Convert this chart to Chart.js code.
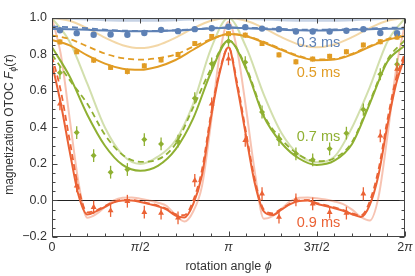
<!DOCTYPE html>
<html>
<head>
<meta charset="utf-8">
<script src="https://cdn.jsdelivr.net/npm/chart.js@4"></script>
<style>
  html, body { margin: 0; padding: 0; background: #fff; }
  #wrap { width: 415px; height: 276px; }
</style>
</head>
<body>
<div id="wrap"><canvas id="chart"></canvas></div>
<script>
// rotation angles are in units of pi
const PHI_POINTS = [0.045, 0.14, 0.236, 0.332, 0.427, 0.523, 0.618, 0.714, 0.809, 0.905, 1.0,
                    1.095, 1.19, 1.286, 1.382, 1.477, 1.573, 1.668, 1.764, 1.86, 1.955];
const PHI_COARSE = [0, 0.1, 0.2, 0.3, 0.4, 0.5, 0.6, 0.7, 0.8, 0.9, 1.0,
                    1.1, 1.2, 1.3, 1.4, 1.5, 1.6, 1.7, 1.8, 1.9, 2.0];
const PHI_FINE = [0, 0.05, 0.1, 0.15, 0.2, 0.25, 0.3, 0.35, 0.4, 0.45, 0.5, 0.55, 0.6, 0.65, 0.7, 0.75, 0.8, 0.85, 0.9, 0.95, 1.0,
                  1.05, 1.1, 1.15, 1.2, 1.25, 1.3, 1.35, 1.4, 1.45, 1.5, 1.55, 1.6, 1.65, 1.7, 1.75, 1.8, 1.85, 1.9, 1.95, 2.0];

const SERIES_NAMES = ['0.3 ms', '0.5 ms', '0.7 ms', '0.9 ms'];

// measured OTOC
const BLUE_PTS = [0.933, 0.917, 0.908, 0.910, 0.908, 0.918, 0.935, 0.928, 0.939, 0.944, 0.952,
                  0.950, 0.942, 0.939, 0.926, 0.926, 0.926, 0.930, 0.939, 0.918, 0.917];
const BLUE_ERR = [0.008, 0.008, 0.009, 0.008, 0.008, 0.009, 0.008, 0.008, 0.008, 0.008, 0.008,
                  0.008, 0.008, 0.008, 0.009, 0.008, 0.008, 0.008, 0.008, 0.009, 0.008];
const ORANGE_PTS = [0.869, 0.815, 0.769, 0.729, 0.707, 0.738, 0.770, 0.800, 0.860, 0.899, 0.914,
                    0.906, 0.860, 0.798, 0.760, 0.775, 0.790, 0.815, 0.852, 0.870, 0.895];
const ORANGE_ERR = [0.014, 0.014, 0.015, 0.014, 0.016, 0.014, 0.014, 0.015, 0.014, 0.014, 0.013,
                    0.014, 0.014, 0.015, 0.015, 0.014, 0.014, 0.014, 0.014, 0.014, 0.014];
const GREEN_PTS = [0.700, 0.372, 0.246, 0.155, 0.170, 0.334, 0.310, 0.325, 0.560, 0.750, 0.873,
                   0.758, 0.485, 0.334, 0.256, 0.223, 0.283, 0.369, 0.498, 0.692, 0.747];
const GREEN_ERR = [0.035, 0.035, 0.035, 0.035, 0.035, 0.035, 0.035, 0.035, 0.033, 0.033, 0.030,
                   0.033, 0.035, 0.035, 0.035, 0.035, 0.035, 0.035, 0.033, 0.033, 0.033];
const RED_PTS = [0.530, 0.080, -0.037, -0.055, -0.004, -0.064, -0.069, -0.095, 0.110, 0.530, 0.776,
                 0.330, 0.037, -0.091, 0.004, -0.018, -0.064, -0.069, 0.037, 0.354, 0.720];
const RED_ERR = [0.035, 0.035, 0.035, 0.035, 0.035, 0.035, 0.035, 0.035, 0.035, 0.035, 0.035,
                 0.035, 0.035, 0.035, 0.035, 0.035, 0.035, 0.035, 0.035, 0.035, 0.035];

// fitted model (solid), alternative model (dashed), ideal (light)
const BLUE_FIT = [0.940, 0.938, 0.935, 0.931, 0.928, 0.927, 0.928, 0.931, 0.937, 0.943, 0.946,
                  0.944, 0.940, 0.936, 0.933, 0.932, 0.933, 0.935, 0.938, 0.941, 0.942];
const BLUE_DASH = [0.953, 0.950, 0.944, 0.936, 0.931, 0.929, 0.930, 0.933, 0.939, 0.945, 0.948,
                   0.947, 0.944, 0.940, 0.937, 0.936, 0.937, 0.939, 0.942, 0.946, 0.948];
const BLUE_IDEAL = [1.0, 0.998, 0.995, 0.991, 0.988, 0.987, 0.988, 0.991, 0.995, 0.998, 1.0,
                    0.998, 0.995, 0.991, 0.988, 0.987, 0.988, 0.991, 0.995, 0.998, 1.0];

const ORANGE_FIT = [0.880, 0.850, 0.795, 0.750, 0.722, 0.716, 0.733, 0.770, 0.826, 0.880, 0.912,
                    0.900, 0.866, 0.825, 0.788, 0.769, 0.772, 0.800, 0.842, 0.880, 0.902];
const ORANGE_DASH = [0.905, 0.885, 0.845, 0.805, 0.780, 0.772, 0.780, 0.800, 0.843, 0.884, 0.912,
                     0.902, 0.870, 0.830, 0.792, 0.773, 0.776, 0.804, 0.846, 0.885, 0.906];
const ORANGE_IDEAL = [1.0, 0.985, 0.943, 0.892, 0.851, 0.835, 0.851, 0.892, 0.943, 0.985, 1.0,
                      0.985, 0.945, 0.895, 0.855, 0.840, 0.855, 0.895, 0.945, 0.985, 1.0];

const GREEN_FIT = [0.84, 0.68, 0.47, 0.30, 0.195, 0.163, 0.19, 0.28, 0.45, 0.70, 0.877,
                   0.72, 0.46, 0.315, 0.23, 0.195, 0.218, 0.31, 0.53, 0.76, 0.85];
const GREEN_DASH = [0.80, 0.66, 0.53, 0.36, 0.25, 0.212, 0.225, 0.31, 0.51, 0.72, 0.877,
                    0.73, 0.47, 0.335, 0.25, 0.215, 0.232, 0.32, 0.54, 0.77, 0.88];
const GREEN_IDEAL = [1.0, 0.87, 0.64, 0.40, 0.25, 0.20, 0.24, 0.33, 0.53, 0.83, 1.0,
                     0.84, 0.58, 0.37, 0.25, 0.21, 0.24, 0.40, 0.62, 0.87, 1.0];

const RED_FIT = [0.75, 0.53, 0.27, 0.03, -0.077, -0.06, -0.035, -0.01, 0.0, 0.0, -0.008, -0.02, -0.032, -0.05, -0.083, -0.093, -0.02, 0.14, 0.45, 0.70, 0.84,
                 0.62, 0.35, 0.09, -0.06, -0.08, -0.05, -0.02, -0.003, 0.0, -0.018, -0.03, -0.042, -0.056, -0.075, -0.09, -0.025, 0.14, 0.41, 0.64, 0.79];
const RED_DASH = [0.79, 0.60, 0.33, 0.07, -0.065, -0.055, -0.03, -0.008, 0.003, 0.003, -0.005, -0.016, -0.028, -0.045, -0.075, -0.08, 0.0, 0.17, 0.47, 0.71, 0.84,
                  0.64, 0.37, 0.11, -0.05, -0.07, -0.045, -0.017, 0.0, 0.002, -0.014, -0.026, -0.038, -0.052, -0.07, -0.082, -0.005, 0.17, 0.44, 0.67, 0.81];
const RED_IDEAL = [1.0, 0.80, 0.45, 0.10, -0.095, -0.075, -0.035, 0.0, 0.015, 0.017, 0.01, 0.0, -0.012, -0.03, -0.08, -0.115, -0.06, 0.08, 0.42, 0.80, 0.98,
                   0.82, 0.50, 0.15, -0.10, -0.085, -0.045, -0.005, 0.015, 0.017, 0.012, 0.005, -0.005, -0.02, -0.05, -0.09, -0.11, 0.02, 0.35, 0.72, 0.97];

const X_TICKS = [0, 0.5, 1, 1.5, 2];
const X_TICK_LABELS = ['0', 'π/2', 'π', '3π/2', '2π'];
const Y_TICKS = [-0.2, 0, 0.2, 0.4, 0.6, 0.8, 1.0];
const Y_TICK_LABELS = ['\u22120.2', '0.0', '0.2', '0.4', '0.6', '0.8', '1.0'];

const COLORS = ['#5e81b5', '#e19c24', '#8fb032', '#eb6235'];
const LIGHT = ['rgba(94,129,181,0.35)', 'rgba(225,156,36,0.4)', 'rgba(143,176,50,0.4)', 'rgba(235,98,53,0.38)'];
const LABEL_POS = [[1.51, 0.863], [1.51, 0.696], [1.51, 0.35], [1.51, -0.126]];
const FONT = '"Liberation Sans", Arial, sans-serif';

const series = [
  { pts: BLUE_PTS, err: BLUE_ERR, fit: BLUE_FIT, dash: BLUE_DASH, ideal: BLUE_IDEAL, grid: PHI_COARSE, style: 'circle', r: 3.2 },
  { pts: ORANGE_PTS, err: ORANGE_ERR, fit: ORANGE_FIT, dash: ORANGE_DASH, ideal: ORANGE_IDEAL, grid: PHI_COARSE, style: 'rect', r: 3.5 },
  { pts: GREEN_PTS, err: GREEN_ERR, fit: GREEN_FIT, dash: GREEN_DASH, ideal: GREEN_IDEAL, grid: PHI_COARSE, style: 'rectRot', r: 3 },
  { pts: RED_PTS, err: RED_ERR, fit: RED_FIT, dash: RED_DASH, ideal: RED_IDEAL, grid: PHI_FINE, style: 'triangle', r: 3.4 }
];

const xy = (xs, ys) => ys.map((y, i) => ({ x: xs[i], y: y }));

const datasets = [];
series.forEach((s, i) => {
  datasets.push({
    data: xy(PHI_POINTS, s.pts), showLine: false,
    pointStyle: s.style, pointRadius: s.r, pointBackgroundColor: COLORS[i], pointBorderWidth: 0,
    errors: s.err, errColor: COLORS[i]
  });
});
const lineBase = { showLine: true, pointRadius: 0, cubicInterpolationMode: 'monotone', fill: false };
series.forEach((s, i) => {
  datasets.push(Object.assign({}, lineBase, { data: xy(s.grid, s.fit), borderColor: COLORS[i], borderWidth: 2 }));
});
series.forEach((s, i) => {
  datasets.push(Object.assign({}, lineBase, { data: xy(s.grid, s.dash), borderColor: COLORS[i], borderWidth: 1.8, borderDash: [6, 4] }));
});
series.forEach((s, i) => {
  datasets.push(Object.assign({}, lineBase, { data: xy(s.grid, s.ideal), borderColor: LIGHT[i], borderWidth: i === 0 ? 3 : 2 }));
});

function fontOf(p, size) {
  const s = p.sub ? size * 0.72 : size;
  return (p.it ? 'italic ' : '') + s + 'px ' + FONT;
}
function drawRich(ctx, parts, x, y, size, align) {
  let w = 0;
  for (const p of parts) { ctx.font = fontOf(p, size); w += ctx.measureText(p.t).width; }
  let cx = align === 'right' ? x - w : (align === 'left' ? x : x - w / 2);
  ctx.textAlign = 'left';
  ctx.textBaseline = 'middle';
  for (const p of parts) {
    ctx.font = fontOf(p, size);
    ctx.fillText(p.t, cx, p.sub ? y + size * 0.3 : y);
    cx += ctx.measureText(p.t).width;
  }
}
// split a label so that pi is set in italics
function piParts(label) {
  return label.split(/(π)/).filter(t => t).map(t => ({ t: t, it: t === 'π' }));
}

const decor = {
  id: 'decor',
  beforeDatasetsDraw(chart) {
    const { ctx, chartArea: a, scales } = chart;
    const y0 = Math.round(scales.y.getPixelForValue(0)) + 0.5;
    ctx.save();
    ctx.strokeStyle = '#222';
    ctx.lineWidth = 1;
    ctx.beginPath();
    ctx.moveTo(a.left, y0);
    ctx.lineTo(a.right, y0);
    ctx.stroke();
    ctx.restore();
  },
  afterDatasetsDraw(chart) {
    const { ctx, scales } = chart;
    ctx.save();
    ctx.lineWidth = 1.3;
    chart.data.datasets.forEach(ds => {
      if (!ds.errors) return;
      ctx.strokeStyle = ds.errColor;
      ds.data.forEach((p, i) => {
        const px = scales.x.getPixelForValue(p.x);
        ctx.beginPath();
        ctx.moveTo(px, scales.y.getPixelForValue(p.y - ds.errors[i]));
        ctx.lineTo(px, scales.y.getPixelForValue(p.y + ds.errors[i]));
        ctx.stroke();
      });
    });
    SERIES_NAMES.forEach((name, i) => {
      ctx.fillStyle = COLORS[i];
      ctx.font = '14.5px ' + FONT;
      ctx.textAlign = 'center';
      ctx.textBaseline = 'middle';
      ctx.fillText(name, scales.x.getPixelForValue(LABEL_POS[i][0]), scales.y.getPixelForValue(LABEL_POS[i][1]));
    });
    ctx.restore();
  },
  afterDraw(chart) {
    const { ctx, chartArea: a, scales } = chart;
    const L = a.left + 0.5, R = a.right - 0.5, T = a.top + 0.5, B = a.bottom - 0.5;
    ctx.save();
    ctx.strokeStyle = '#444';
    ctx.lineWidth = 1;
    ctx.strokeRect(L, T, R - L, B - T);
    ctx.beginPath();
    for (let k = 0; k <= 20; k++) {
      const v = k / 10;
      const len = k % 5 === 0 ? 5 : 3;
      const px = Math.round(scales.x.getPixelForValue(v)) + 0.5;
      ctx.moveTo(px, B); ctx.lineTo(px, B - len);
      ctx.moveTo(px, T); ctx.lineTo(px, T + len);
    }
    for (let k = -4; k <= 20; k++) {
      const v = k / 20;
      const len = k % 4 === 0 ? 5 : 3;
      const py = Math.round(scales.y.getPixelForValue(v)) + 0.5;
      ctx.moveTo(L, py); ctx.lineTo(L + len, py);
      ctx.moveTo(R, py); ctx.lineTo(R - len, py);
    }
    ctx.stroke();

    ctx.fillStyle = '#333';
    Y_TICKS.forEach((v, i) => {
      drawRich(ctx, [{ t: Y_TICK_LABELS[i] }], a.left - 5, scales.y.getPixelForValue(v), 12.5, 'right');
    });
    X_TICKS.forEach((v, i) => {
      drawRich(ctx, piParts(X_TICK_LABELS[i]), scales.x.getPixelForValue(v), a.bottom + 11, 12.5, 'center');
    });

    drawRich(ctx, [{ t: 'rotation angle ' }, { t: '\u03d5', it: true }], (a.left + a.right) / 2, a.bottom + 30, 12.5, 'center');

    ctx.translate(10, (a.top + a.bottom) / 2 - 3);
    ctx.rotate(-Math.PI / 2);
    drawRich(ctx, [
      { t: 'magnetization OTOC ' }, { t: 'F', it: true }, { t: '\u03d5', it: true, sub: true },
      { t: '(' }, { t: 'τ', it: true }, { t: ')' }
    ], 0, 0, 12, 'center');
    ctx.restore();
  }
};

new Chart(document.getElementById('chart'), {
  type: 'scatter',
  data: { datasets: datasets },
  options: {
    responsive: true,
    maintainAspectRatio: false,
    animation: false,
    layout: { padding: { left: 52, right: 10, top: 18, bottom: 39 } },
    plugins: { legend: { display: false }, tooltip: { enabled: false } },
    scales: {
      x: { type: 'linear', display: false, min: 0, max: 2 },
      y: { type: 'linear', display: false, min: -0.2, max: 1.0 }
    }
  },
  plugins: [decor]
});
</script>
</body>
</html>
